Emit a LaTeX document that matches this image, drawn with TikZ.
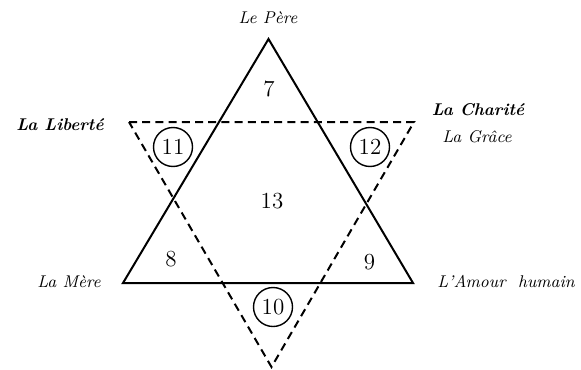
\documentclass[tikz,border=0pt]{standalone}
\usepackage{tikz}
\usetikzlibrary{positioning}

\begin{document}
\begin{tikzpicture}[
  x=0.5pt, y=-0.5pt,
  lbl/.style={font=\fontsize{8.5}{10}\selectfont\itshape, inner sep=0pt, anchor=base},
  blbl/.style={lbl, font=\fontsize{8.5}{10}\selectfont\itshape\bfseries},
  num/.style={font=\fontsize{11.5}{13}\selectfont, inner sep=0pt, anchor=base},
  ring/.style={font=\fontsize{11.5}{13}\selectfont, draw, circle, inner sep=0pt,
               minimum size=19.5pt, line width=0.7pt},
  tri/.style={line width=1pt, line join=miter},
  dtri/.style={line width=1pt, dash pattern=on 4pt off 2.6pt, line join=miter}]
\useasboundingbox (0,0) rectangle (581,369);
\coordinate (pere) at (268.5,39);
\coordinate (mere) at (123,283);
\coordinate (amour) at (413,283);
\coordinate (lib) at (129,122);
\coordinate (char) at (414,122);
\coordinate (bas) at (271.5,367);
\draw[tri] (pere) -- (mere) -- (amour) -- cycle;
\draw[dtri] (lib) -- (char) -- (bas) -- cycle;
\node[lbl] (tpere) at (268,24) {Le Père};
\node[blbl] (tlib) at (60,130) {La Liberté};
\node[blbl] (tchar) at (478,115) {La Charité};
\node[lbl] (tgrace) at (477,142) {La Grâce};
\node[lbl] (tmere) at (69,287) {La Mère};
\node[lbl] (tamour) at (506,287) {L'Amour\ \ humain};
\node[num] (n7) at (269,97) {7};
\node[num] (n13) at (272,208) {13};
\node[num] (n8) at (171,266) {8};
\node[num] (n9) at (369.5,269) {9};
\node[ring] (n11) at (173,147) {11};
\node[ring] (n12) at (370,147) {12};
\node[ring] (n10) at (273,307) {10};
\end{tikzpicture}
\end{document}
